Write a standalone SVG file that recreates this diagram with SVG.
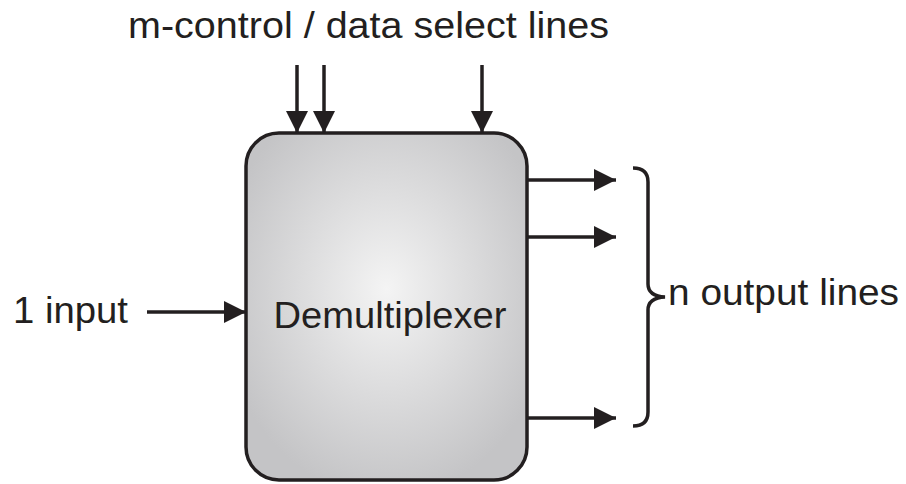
<svg xmlns="http://www.w3.org/2000/svg" width="906" height="484" viewBox="0 0 906 484">
<style>
text{font-family:"Liberation Sans",Arial,sans-serif;fill:#231f20;font-size:36px}
.ln{stroke:#231f20;stroke-width:3.5;fill:none}
</style>
<defs>
<radialGradient id="g" cx="0.5" cy="0.45" r="0.6">
<stop offset="0" stop-color="#f4f4f4"/>
<stop offset="1" stop-color="#c4c4c6"/>
</radialGradient>
<marker id="ah" viewBox="0 0 22 22" refX="22" refY="11" markerWidth="22" markerHeight="22" markerUnits="userSpaceOnUse" orient="auto">
<path d="M0,0 L22,11 L0,22 Z" fill="#231f20"/>
</marker>
</defs>
<g id="demux">
<rect x="246" y="133" width="281" height="347" rx="33" fill="url(#g)" stroke="#231f20" stroke-width="3.5"/>
<text x="390" y="328" text-anchor="middle" textLength="233" lengthAdjust="spacingAndGlyphs">Demultiplexer</text>
</g>
<g id="labels">
<text x="128" y="38" textLength="481" lengthAdjust="spacingAndGlyphs">m-control / data select lines</text>
<text x="13" y="323" textLength="115" lengthAdjust="spacingAndGlyphs">1 input</text>
<text x="668" y="305" textLength="231" lengthAdjust="spacingAndGlyphs">n output lines</text>
</g>
<g id="connectors">
<line class="ln" x1="297" y1="65" x2="297" y2="133" marker-end="url(#ah)"/>
<line class="ln" x1="324" y1="65" x2="324" y2="133" marker-end="url(#ah)"/>
<line class="ln" x1="482" y1="65" x2="482" y2="133" marker-end="url(#ah)"/>
<line class="ln" x1="147" y1="312" x2="246" y2="312" marker-end="url(#ah)"/>
<line class="ln" x1="527" y1="180" x2="616" y2="180" marker-end="url(#ah)"/>
<line class="ln" x1="527" y1="237" x2="616" y2="237" marker-end="url(#ah)"/>
<line class="ln" x1="527" y1="418" x2="616" y2="418" marker-end="url(#ah)"/>
<path class="ln" stroke-width="2.8" d="M633,168 Q648,168 648,182 L648,284 Q648,296 665,297 Q648,298 648,310 L648,412 Q648,426 633,426"/>
</g>
</svg>
